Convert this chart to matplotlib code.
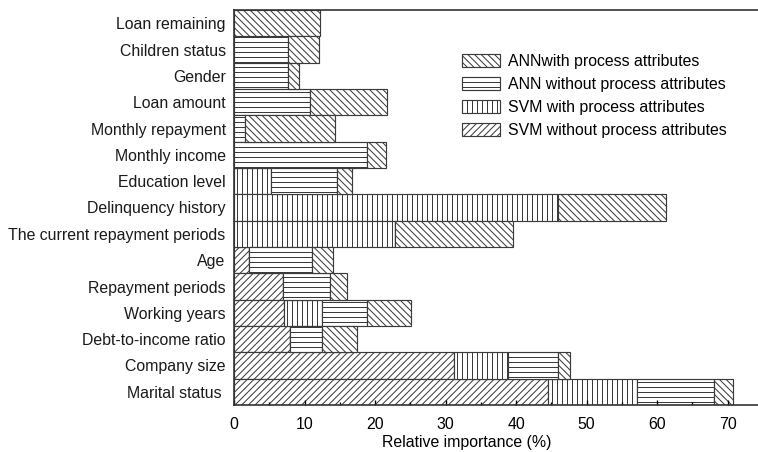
import numpy as np
import matplotlib
matplotlib.use("Agg")
import matplotlib.pyplot as plt
from matplotlib.ticker import MultipleLocator

# attribute names, top to bottom
attributes = ["Loan remaining", "Children status", "Gender", "Loan amount",
              "Monthly repayment", "Monthly income", "Education level",
              "Delinquency history", "The current repayment periods", "Age",
              "Repayment periods", "Working years", "Debt-to-income ratio",
              "Company size", "Marital status "]

# relative importance (%) per model, stacked left to right
svm_without = [0, 0, 0, 0, 0, 0, 0, 0, 0, 2.1, 6.9, 7.1, 7.9, 31.2, 44.5]
svm_with = [0, 0, 0, 0, 0, 0, 5.2, 45.9, 22.8, 0, 0, 5.4, 0, 7.6, 12.7]
ann_without = [0, 7.6, 7.7, 10.8, 1.5, 18.8, 9.4, 0, 0, 8.9, 6.7, 6.3, 4.6, 7.1, 10.8]
ann_with = [12.2, 4.4, 1.5, 10.9, 12.8, 2.8, 2.1, 15.3, 16.8, 3.0, 2.4, 6.3, 4.9, 1.7, 2.7]

series = [
    ("SVM without process attributes", svm_without, "//////"),
    ("SVM with process attributes", svm_with, "||||"),
    ("ANN without process attributes", ann_without, "----"),
    ("ANNwith process attributes", ann_with, "\\" * 6),
]

plt.rcParams["font.family"] = ["Liberation Sans", "DejaVu Sans"]
plt.rcParams["font.size"] = 9.5
plt.rcParams["hatch.linewidth"] = 0.6
plt.rcParams["hatch.color"] = "#3a3a3a"

fig = plt.figure(figsize=(758 / 120, 452 / 120), dpi=120)
ax = fig.add_axes([234 / 758, 47 / 452, 1 - 234 / 758, 395 / 452])

y = np.arange(len(attributes))
left = np.zeros(len(attributes))
handles = {}
for name, vals, hatch in series:
    vals = np.array(vals)
    bars = ax.barh(y, vals, height=1.0, left=left, color="white",
                   edgecolor="#3a3a3a", linewidth=0.7, hatch=hatch, label=name)
    handles[name] = bars
    left += vals

ax.set_ylim(len(attributes) - 0.5, -0.5)
ax.set_xlim(0, 74.3)
ax.set_yticks(y)
ax.set_yticklabels(attributes)
ax.tick_params(axis="y", length=0, pad=5, colors="#1a1a1a")
ax.xaxis.set_major_locator(MultipleLocator(10))
ax.xaxis.set_minor_locator(MultipleLocator(5))
ax.tick_params(axis="x", which="major", direction="in", length=3, width=0.8, pad=7)
ax.tick_params(axis="x", which="minor", direction="in", length=1.8, width=0.8)
ax.spines["right"].set_visible(False)
for s in ["top", "left", "bottom"]:
    ax.spines[s].set_linewidth(1.0)
    ax.spines[s].set_color("#333333")

ax.set_xlabel("Relative importance (%)")
ax.xaxis.set_label_coords(0.445, -0.075)

order = ["ANNwith process attributes", "ANN without process attributes",
         "SVM with process attributes", "SVM without process attributes"]
fig.legend([handles[n] for n in order], order, loc="upper left",
           bbox_to_anchor=(462 / 758, 1 - 54 / 452), frameon=False,
           borderpad=0, borderaxespad=0, handlelength=2.4, handleheight=0.9,
           handletextpad=0.5, labelspacing=0.5, fontsize=9.5)

fig.savefig("out.png", dpi=120)
